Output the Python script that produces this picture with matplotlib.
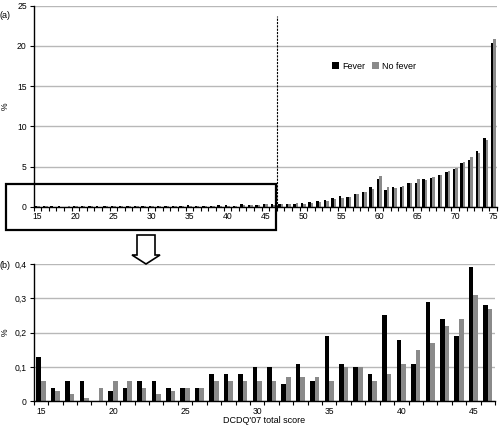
import numpy as np
import matplotlib.pyplot as plt
from matplotlib.patches import Rectangle, FancyArrow

plt.rcParams['font.family'] = ['Liberation Sans', 'DejaVu Sans']

scores = list(range(15, 76))
fever = [0.13, 0.04, 0.06, 0.06, 0.0, 0.03, 0.04, 0.06, 0.06, 0.04,
         0.04, 0.04, 0.08, 0.08, 0.08, 0.10, 0.10, 0.05, 0.11, 0.06,
         0.19, 0.11, 0.10, 0.08, 0.25, 0.18, 0.11, 0.29, 0.24, 0.19,
         0.39, 0.28,
         0.35, 0.35, 0.35, 0.45, 0.6, 0.7, 0.8, 1.1, 1.3, 1.25, 1.6, 1.8,
         2.4, 3.5, 2.1, 2.4, 2.4, 3.0, 2.9, 3.4, 3.6, 3.9, 4.3, 4.7,
         5.4, 5.8, 6.9, 8.5, 20.3]
no_fever = [0.06, 0.03, 0.02, 0.01, 0.04, 0.06, 0.06, 0.04, 0.02, 0.03,
            0.04, 0.04, 0.06, 0.06, 0.06, 0.06, 0.06, 0.07, 0.07, 0.07,
            0.06, 0.10, 0.10, 0.06, 0.08, 0.11, 0.15, 0.17, 0.22, 0.24,
            0.31, 0.27,
            0.3, 0.35, 0.45, 0.4, 0.5, 0.6, 0.7, 1.0, 1.1, 1.25, 1.6, 1.8,
            2.2, 3.8, 2.4, 2.3, 2.6, 2.9, 3.4, 3.3, 3.75, 4.0, 4.45, 4.8,
            5.5, 6.2, 6.7, 8.25, 20.8]
zoom_last = 46

black = '#000000'
gray = '#8a8a8a'
grid = '#b8b8b8'
fs = 6.2
w = 0.32


def style(ax, lo, hi, yticks, ylabels):
    ax.set_xlim(lo - 0.5, hi + 0.5)
    ax.set_yticks(yticks)
    ax.set_yticklabels(ylabels)
    ax.set_ylim(yticks[0], yticks[-1])
    ax.yaxis.grid(True, color=grid, lw=1)
    ax.set_axisbelow(True)
    for s in ['top', 'right']:
        ax.spines[s].set_visible(False)
    ax.spines['left'].set_linewidth(1)
    ax.spines['bottom'].set_linewidth(1)
    ax.set_xticks(np.arange(lo - 0.5, hi + 0.6, 1))
    ax.set_xticklabels([])
    ax.set_xticks(np.arange(lo, hi + 1, 5), minor=True)
    ax.set_xticklabels([str(v) for v in range(lo, hi + 1, 5)], minor=True)
    ax.tick_params(axis='x', which='major', length=3, width=0.8, direction='out')
    ax.tick_params(axis='x', which='minor', length=0, pad=4, labelsize=fs)
    ax.tick_params(axis='y', length=3, width=0.8, labelsize=fs, pad=2)
    ax.set_ylabel('%', fontsize=fs)
    ax.yaxis.set_label_coords(-0.052, 0.5)


fig = plt.figure(figsize=(5, 4.28), dpi=100)

ax1 = fig.add_axes([0.0674, 0.517, 0.9266, 0.4697])
x = np.array(scores)
ax1.bar(x - w / 2, fever, w, color=black, label='Fever')
ax1.bar(x + w / 2, no_fever, w, color=gray, label='No fever')
style(ax1, 15, 75, [0, 5, 10, 15, 20, 25], ['0', '5', '10', '15', '20', '25'])
ax1.axvline(zoom_last + 0.5, ymin=0, ymax=0.95, color=black, lw=0.8, ls=(0, (2, 1)))
ax1.legend(loc='center', bbox_to_anchor=(0.735, 0.70), ncol=2, frameon=False,
           fontsize=fs + 0.3, handlelength=0.7, handleheight=0.7,
           handletextpad=0.4, columnspacing=0.8)

ax2 = fig.add_axes([0.0674, 0.0624, 0.9226, 0.3208])
n = zoom_last - 15 + 1
xb = np.array(scores[:n])
ax2.bar(xb - w / 2, fever[:n], w, color=black)
ax2.bar(xb + w / 2, no_fever[:n], w, color=gray)
style(ax2, 15, zoom_last, [0, 0.1, 0.2, 0.3, 0.4], ['0', '0,1', '0,2', '0,3', '0,4'])
ax2.set_xlabel("DCDQ'07 total score", fontsize=fs + 0.3)
ax2.xaxis.set_label_coords(0.5, -0.105)

# zoom box and arrow in figure pixels
fig.patches.append(Rectangle((6 / 500, 1 - 230 / 428), 270 / 500, 46 / 428,
                             transform=fig.transFigure, fill=False,
                             ec=black, lw=1.6))
fig.patches.append(FancyArrow(146 / 500, 1 - 235 / 428, 0, -29 / 428,
                              width=18 / 500, head_width=28 / 500,
                              head_length=9 / 428, length_includes_head=True,
                              transform=fig.transFigure, fc='white',
                              ec=black, lw=1.2))

fig.text(0.0, 1 - 15 / 428, '(a)', fontsize=fs + 0.3, va='center')
fig.text(0.0, 1 - 265 / 428, '(b)', fontsize=fs + 0.3, va='center')

fig.savefig('out.png', dpi=100)
